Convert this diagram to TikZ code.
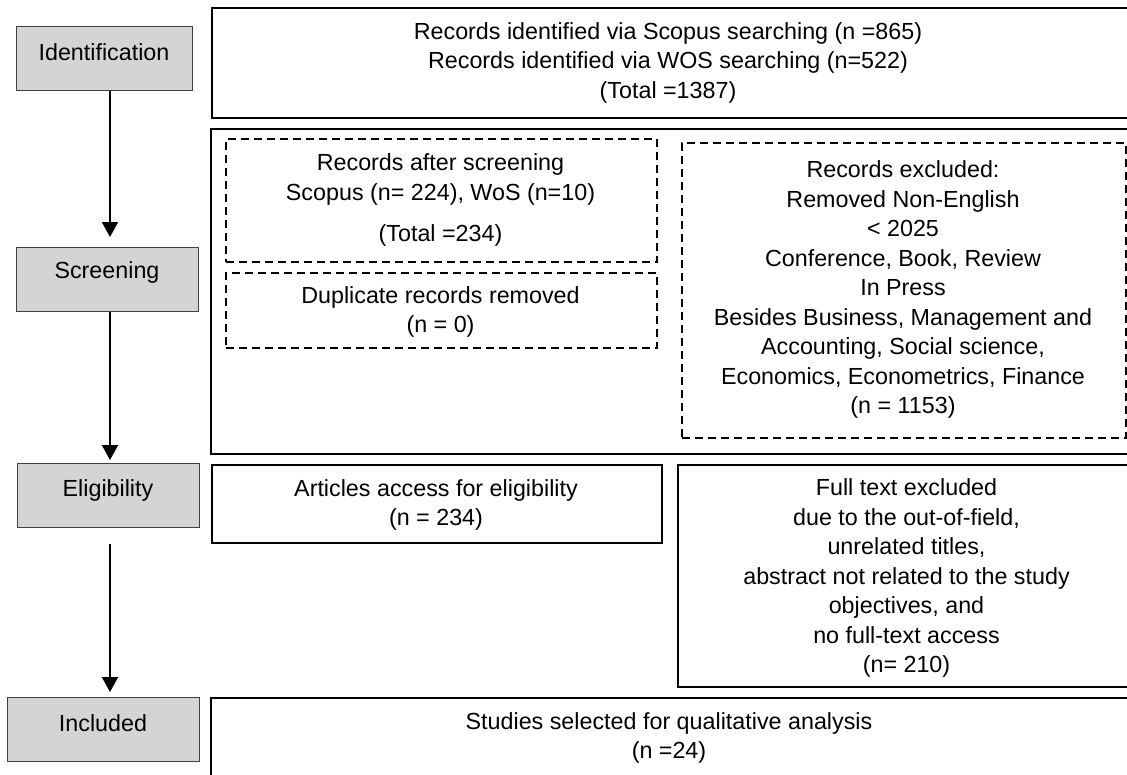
\documentclass[tikz,border=0pt]{standalone}
\usepackage{fontspec}
\setmainfont{Liberation Sans}
\usetikzlibrary{arrows.meta}
\definecolor{stagefill}{RGB}{212,212,212}
\begin{document}
\begin{tikzpicture}[x=1pt,y=-1pt,
  stage/.style={draw=black!75, line width=1.4pt, fill=stagefill, inner sep=0pt, anchor=north west},
  bigbox/.style={draw=black, line width=2.2pt, inner sep=0pt, anchor=north west},
  subbox/.style={draw=black, line width=1.6pt, inner sep=0pt, anchor=north west},
  dbox/.style={draw=black, line width=1.6pt, dash pattern=on 8pt off 5pt, inner sep=0pt, anchor=north west},
  txt/.style={align=center, inner sep=0pt, font=\fontsize{23.3}{29.5}\selectfont},
  flow/.style={line width=2pt, -{Triangle[length=15pt,width=16pt]}}]
\useasboundingbox (0,0) rectangle (1127,774);
\clip (0,0) rectangle (1127,774);

% stage boxes
\node[stage, minimum width=176pt, minimum height=64pt] (id)  at (16,26)  {};
\node[stage, minimum width=182pt, minimum height=64pt] (scr) at (16,247) {};
\node[stage, minimum width=182pt, minimum height=64pt] (eli) at (17,463) {};
\node[stage, minimum width=192pt, minimum height=64pt] (inc) at (7,697)  {};
\node[txt] (idt)  at (104,52)  {Identification};
\node[txt] (scrt) at (107,272) {Screening};
\node[txt] (elit) at (108,490) {Eligibility};
\node[txt] (inct) at (103,723) {Included};

% arrows (vertical, on the line x = 110)
\coordinate (ax) at (110,0);
\draw[flow, shorten >=10pt] (id.south -| ax) -- (scr.north -| ax);
\draw[flow, shorten >=3pt] (scr.south -| ax) -- (eli.north -| ax);
\draw[flow, shorten <=16pt, shorten >=5pt] (eli.south -| ax) -- (inc.north -| ax);

% right-hand boxes
\node[bigbox, minimum width=924pt, minimum height=110pt] (topb) at (211,7) {};
\node[bigbox, minimum width=925pt, minimum height=325pt] (scrb) at (210,128) {};
\node[dbox, minimum width=431pt, minimum height=123pt] (d1) at (225,138) {};
\node[dbox, minimum width=431pt, minimum height=75pt]  (d2) at (225,272) {};
\node[dbox, minimum width=444pt, minimum height=295pt] (d3) at (681,142) {};
\node[subbox, minimum width=450pt, minimum height=78pt]  (el) at (211,464) {};
\node[subbox, minimum width=459pt, minimum height=222pt] (ft) at (677,464) {};
\node[bigbox, minimum width=925pt, minimum height=110pt] (incb) at (210,697) {};

\node[txt] (topt) at (668,62.5) {Records identified via Scopus searching (n =865)\\Records identified via WOS searching (n=522)\\(Total =1387)};
\node[txt] (d1t) at (440.5,200) {Records after screening\\Scopus (n= 224), WoS (n=10)\\[12pt](Total =234)};
\node[txt] (d2t) at (440.5,312) {Duplicate records removed\\(n = 0)};
\node[txt] (d3t) at (903,289.5) {Records excluded:\\Removed Non-English\\< 2025\\Conference, Book, Review\\In Press\\Besides Business, Management and\\Accounting, Social science,\\Economics, Econometrics, Finance\\(n = 1153)};
\node[txt] (elt) at (436,505) {Articles access for eligibility\\(n = 234)};
\node[txt] (ftt) at (906.5,578) {Full text excluded\\due to the out-of-field,\\unrelated titles,\\abstract not related to the study\\objectives, and\\no full-text access\\(n= 210)};
\node[txt] (inctx) at (669,738) {Studies selected for qualitative analysis\\(n =24)};
\end{tikzpicture}
\end{document}
